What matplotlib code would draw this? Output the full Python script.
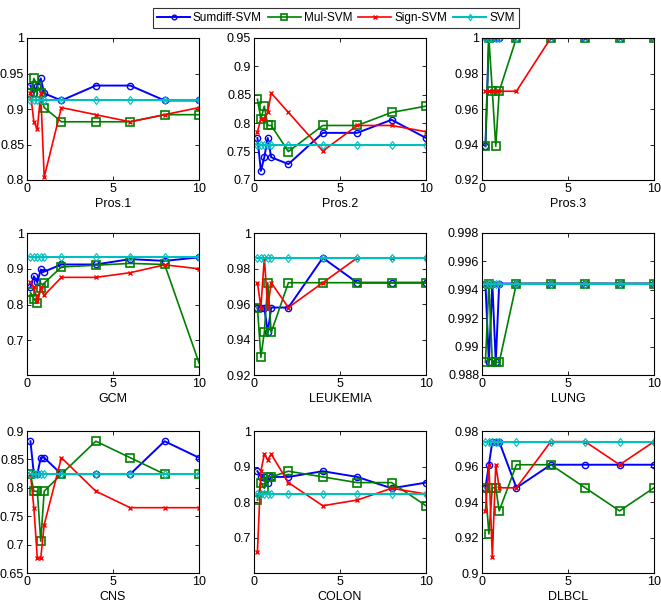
import matplotlib
matplotlib.use("Agg")
import matplotlib.pyplot as plt

x = [0.2, 0.4, 0.6, 0.8, 1, 2, 4, 6, 8, 10]
series_names = ["Sumdiff-SVM", "Mul-SVM", "Sign-SVM", "SVM"]
titles = ["Pros.1", "Pros.2", "Pros.3", "GCM", "LEUKEMIA", "LUNG", "CNS", "COLON", "DLBCL"]

pros1_sumdiff = [0.933, 0.922, 0.933, 0.943, 0.922, 0.912, 0.933, 0.933, 0.912, 0.912]
pros1_mul = [0.922, 0.943, 0.933, 0.922, 0.902, 0.882, 0.882, 0.882, 0.892, 0.892]
pros1_sign = [0.922, 0.882, 0.872, 0.922, 0.804, 0.902, 0.892, 0.882, 0.892, 0.902]
pros1_svm = [0.912] * 10

pros2_sumdiff = [0.774, 0.716, 0.740, 0.774, 0.740, 0.728, 0.783, 0.783, 0.806, 0.774]
pros2_mul = [0.842, 0.808, 0.830, 0.796, 0.796, 0.750, 0.796, 0.796, 0.819, 0.830]
pros2_sign = [0.785, 0.808, 0.808, 0.819, 0.853, 0.819, 0.751, 0.796, 0.796, 0.785]
pros2_svm = [0.762] * 10

pros3_sumdiff = [0.939, 1, 1, 1, 1, 1, 1, 1, 1, 1]
pros3_mul = [0.939, 1, 0.970, 0.939, 0.970, 1, 1, 1, 1, 1]
pros3_sign = [0.970, 0.970, 0.970, 0.970, 0.970, 0.970, 1, 1, 1, 1]
pros3_svm = [1] * 10

gcm_sumdiff = [0.848, 0.879, 0.862, 0.898, 0.892, 0.912, 0.912, 0.927, 0.922, 0.932]
gcm_mul = [0.834, 0.815, 0.804, 0.845, 0.860, 0.905, 0.910, 0.915, 0.912, 0.637]
gcm_sign = [0.863, 0.848, 0.810, 0.848, 0.826, 0.876, 0.876, 0.889, 0.911, 0.900]
gcm_svm = [0.932] * 10

leuk_sumdiff = [0.958, 0.958, 0.958, 0.944, 0.958, 0.958, 0.986, 0.972, 0.972, 0.972]
leuk_mul = [0.958, 0.930, 0.944, 0.972, 0.944, 0.972, 0.972, 0.972, 0.972, 0.972]
leuk_sign = [0.972, 0.958, 0.986, 0.958, 0.972, 0.958, 0.972, 0.986, 0.986, 0.986]
leuk_svm = [0.986] * 10

lung_sumdiff = [0.99444, 0.98889, 0.99444, 0.98889, 0.99444, 0.99444, 0.99444, 0.99444, 0.99444, 0.99444]
lung_mul = [0.98889, 0.99444, 0.98889, 0.98889, 0.98889, 0.99444, 0.99444, 0.99444, 0.99444, 0.99444]
lung_sign = [0.99444] * 10
lung_svm = [0.99444] * 10

cns_sumdiff = [0.882, 0.824, 0.824, 0.853, 0.853, 0.824, 0.824, 0.824, 0.882, 0.853]
cns_mul = [0.824, 0.794, 0.794, 0.706, 0.794, 0.824, 0.882, 0.853, 0.824, 0.824]
cns_sign = [0.824, 0.765, 0.676, 0.676, 0.735, 0.853, 0.794, 0.765, 0.765, 0.765]
cns_svm = [0.824] * 10

colon_sumdiff = [0.887, 0.871, 0.871, 0.855, 0.871, 0.871, 0.887, 0.871, 0.839, 0.855]
colon_mul = [0.806, 0.855, 0.839, 0.871, 0.871, 0.887, 0.871, 0.855, 0.855, 0.790]
colon_sign = [0.661, 0.887, 0.935, 0.919, 0.935, 0.855, 0.790, 0.806, 0.839, 0.823]
colon_svm = [0.823] * 10

dlbcl_sumdiff = [0.948, 0.961, 0.974, 0.974, 0.974, 0.948, 0.961, 0.961, 0.961, 0.961]
dlbcl_mul = [0.948, 0.922, 0.948, 0.948, 0.935, 0.961, 0.961, 0.948, 0.935, 0.948]
dlbcl_sign = [0.935, 0.961, 0.909, 0.961, 0.948, 0.948, 0.974, 0.974, 0.961, 0.974]
dlbcl_svm = [0.974] * 10

data = [
    (pros1_sumdiff, pros1_mul, pros1_sign, pros1_svm),
    (pros2_sumdiff, pros2_mul, pros2_sign, pros2_svm),
    (pros3_sumdiff, pros3_mul, pros3_sign, pros3_svm),
    (gcm_sumdiff, gcm_mul, gcm_sign, gcm_svm),
    (leuk_sumdiff, leuk_mul, leuk_sign, leuk_svm),
    (lung_sumdiff, lung_mul, lung_sign, lung_svm),
    (cns_sumdiff, cns_mul, cns_sign, cns_svm),
    (colon_sumdiff, colon_mul, colon_sign, colon_svm),
    (dlbcl_sumdiff, dlbcl_mul, dlbcl_sign, dlbcl_svm),
]

ylims = [(0.8, 1), (0.7, 0.95), (0.92, 1), (0.603, 1), (0.92, 1), (0.988, 0.998),
         (0.65, 0.9), (0.601, 1), (0.9, 0.98)]
yticks = [
    [0.8, 0.85, 0.9, 0.95, 1],
    [0.7, 0.75, 0.8, 0.85, 0.9, 0.95],
    [0.92, 0.94, 0.96, 0.98, 1],
    [0.7, 0.8, 0.9, 1],
    [0.92, 0.94, 0.96, 0.98, 1],
    [0.988, 0.99, 0.992, 0.994, 0.996, 0.998],
    [0.65, 0.7, 0.75, 0.8, 0.85, 0.9],
    [0.7, 0.8, 0.9, 1],
    [0.9, 0.92, 0.94, 0.96, 0.98],
]

styles = [
    dict(color=(0, 0, 1), marker='o', markersize=4.5, markerfacecolor='none', lw=1.4, mew=1.0),
    dict(color=(0, 0.5, 0), marker='s', markersize=5.5, markerfacecolor='none', lw=1.2, mew=1.2),
    dict(color=(1, 0, 0), marker='x', markersize=3.5, lw=1.2, mew=1.0),
    dict(color=(0, 0.75, 0.75), marker='d', markersize=4.5, markerfacecolor='none', lw=1.5, mew=0.8),
]

plt.rcParams['font.family'] = ['Liberation Sans', 'DejaVu Sans']
fig = plt.figure(figsize=(6.61, 6.05), dpi=100)

lefts = [27 / 661, 254 / 661, 482 / 661]
bottoms = [1 - 180 / 605, 1 - 375 / 605, 1 - 573 / 605]
w = 172 / 661
h = 142 / 605

handles = None
for i in range(9):
    r, c = divmod(i, 3)
    ax = fig.add_axes([lefts[c], bottoms[r], w, h])
    hs = []
    for s, vals in enumerate(data[i]):
        ln, = ax.plot(x, vals, label=series_names[s], **styles[s])
        hs.append(ln)
    if handles is None:
        handles = hs
    ax.set_xlim(0, 10)
    ax.set_ylim(*ylims[i])
    ax.set_xticks([0, 5, 10])
    ax.set_yticks(yticks[i])
    ax.set_yticklabels([('%g' % v) for v in yticks[i]])
    ax.tick_params(direction='in', top=True, right=True, labelsize=9, length=3, width=0.6, pad=2)
    for sp in ax.spines.values():
        sp.set_linewidth(0.8)
    ax.set_xlabel(titles[i], fontsize=9, labelpad=2.5)

leg = fig.legend(handles, series_names, loc='upper center', bbox_to_anchor=(0.508, 0.997),
                 ncol=4, fontsize=8.5, frameon=True, fancybox=False, edgecolor='black',
                 handlelength=2.8, columnspacing=0.5, handletextpad=0.25, borderpad=0.35,
                 markerscale=0.75)
leg.get_frame().set_linewidth(0.8)

fig.savefig('out.png', dpi=100)
